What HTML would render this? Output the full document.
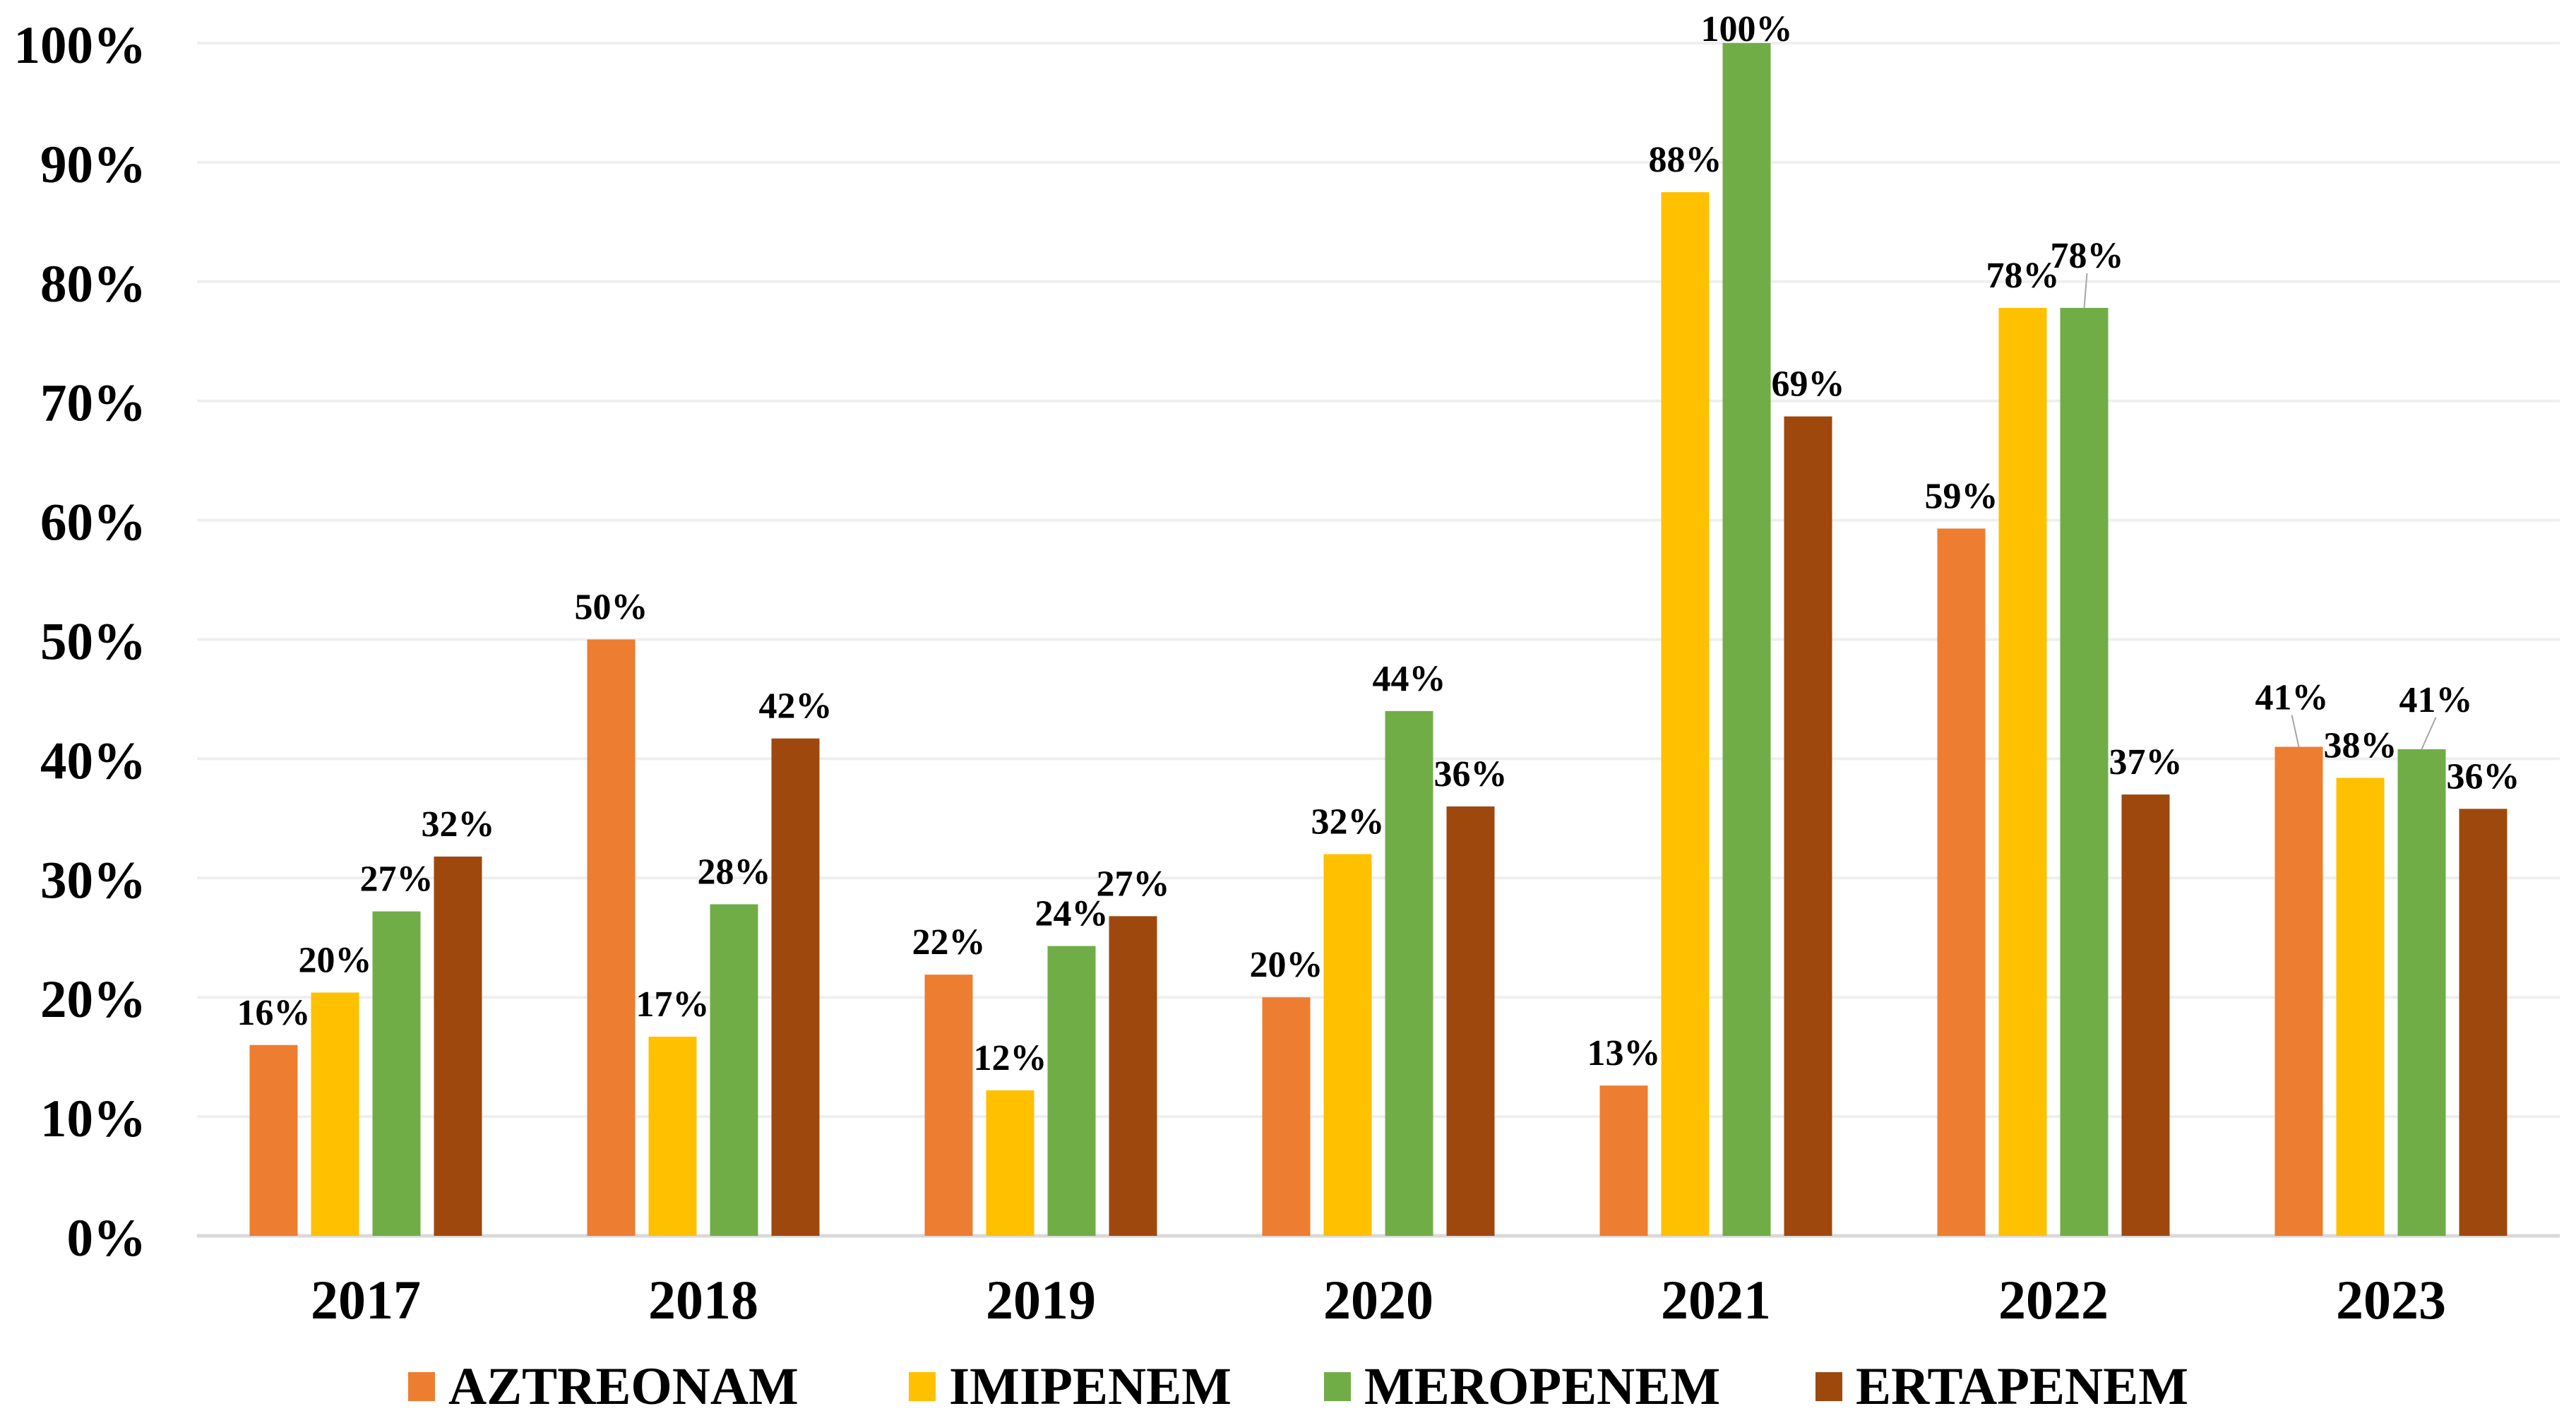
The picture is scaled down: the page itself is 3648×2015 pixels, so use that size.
<!DOCTYPE html>
<html><head><meta charset="utf-8">
<style>
html,body{margin:0;padding:0;background:#fff;}
svg{display:block;}
text{font-family:"Liberation Serif",serif;font-weight:bold;fill:#000;}
</style></head>
<body>
<svg id="chart" width="3648" height="2015" viewBox="0 0 3648 2015" xmlns="http://www.w3.org/2000/svg">
<g id="grid"></g>
<g id="yaxis"></g>
<g id="bars"></g>
<g id="labels"></g>
<g id="xaxis"></g>
<g id="legend"></g>
</svg>
<script>
const categories = ["2017","2018","2019","2020","2021","2022","2023"];
const seriesNames = ["AZTREONAM","IMIPENEM","MEROPENEM","ERTAPENEM"];
const aztreonam = [16, 50, 21.9, 20, 12.6, 59.3, 41];
const imipenem  = [20.4, 16.7, 12.2, 32, 87.5, 77.8, 38.4];
const meropenem = [27.2, 27.8, 24.3, 44, 100, 77.8, 40.8];
const ertapenem = [31.8, 41.7, 26.8, 36, 68.7, 37, 35.8];
const yTicks = [0,10,20,30,40,50,60,70,80,90,100];

const series = [aztreonam, imipenem, meropenem, ertapenem];
const colors = ["#ED7D31","#FFC000","#70AD47","#9E480E"];
// label nudges [series][category] in px (dx, dy) for overlapping labels
const nudge = {"2,5":[4,-28],"0,6":[-10,-24],"2,6":[20,-24]};

const NS = "http://www.w3.org/2000/svg";
const plotL = 279, plotR = 3625, y0 = 1750, y100 = 61;
const catW = (plotR - plotL) / categories.length;
const barW = 68, barPitch = 87;
function yScale(v){ return y0 - (y0 - y100) * v / 100; }
function xCenter(i){ return plotL + catW * (i + 0.5); }
function barX(i, s){ return xCenter(i) - (barPitch*4 - (barPitch-barW))/2 + s*barPitch; }
function mk(tag, attrs, parent){
  const e = document.createElementNS(NS, tag);
  for (const k in attrs) e.setAttribute(k, attrs[k]);
  parent.appendChild(e); return e;
}
const grid = document.getElementById('grid'), yaxis = document.getElementById('yaxis');
const barsG = document.getElementById('bars'), labelsG = document.getElementById('labels');
const xaxis = document.getElementById('xaxis'), legend = document.getElementById('legend');

yTicks.forEach(t => {
  const y = yScale(t);
  const ln = mk('line', {x1:plotL, x2:plotR, y1:y, y2:y, stroke: t===0 ? '#d9d9d9' : '#efefef', 'stroke-width': t===0 ? 5 : 4}, grid);
  
  
  const tx = mk('text', {x:207, y:y+28, 'text-anchor':'end', 'font-size':75}, yaxis);
  tx.textContent = t + '%';
  
  
});

categories.forEach((c, i) => {
  const tx = mk('text', {x:xCenter(i), y:1867, 'text-anchor':'middle', 'font-size':78}, xaxis);
  tx.textContent = c;
  
  
  series.forEach((vals, s) => {
    const v = vals[i];
    const x = barX(i, s), top = yScale(v);
    const r = mk('rect', {x:x, y:top, width:barW, height:y0 - top, fill:colors[s]}, barsG);
    
    
    const nd = nudge[s + ',' + i] || [0,0];
    const lx = x + barW/2 + nd[0];
    let ly = top - 29 + nd[1];
    if (ly < 58) ly = 58;
    if (nd[1] !== 0) {
      const ll = mk('line', {x1:x+barW/2, y1:top, x2:lx, y2:ly+8, stroke:'#a6a6a6', 'stroke-width':2}, labelsG);
      
      
    }
    const lt = mk('text', {x:lx, y:ly, 'text-anchor':'middle', 'font-size':52}, labelsG);
    lt.textContent = Math.round(v) + '%';
    
    
  });
});

const legX = [578, 1287, 1875, 2571];
seriesNames.forEach((n, s) => {
  const g = mk('g', {}, legend);
  
  
  mk('rect', {x:legX[s], y:1943, width:38, height:41, fill:colors[s]}, g);
  const t = mk('text', {x:legX[s]+57, y:1988, 'font-size':75}, g);
  t.textContent = n;
});
</script>
</body></html>
